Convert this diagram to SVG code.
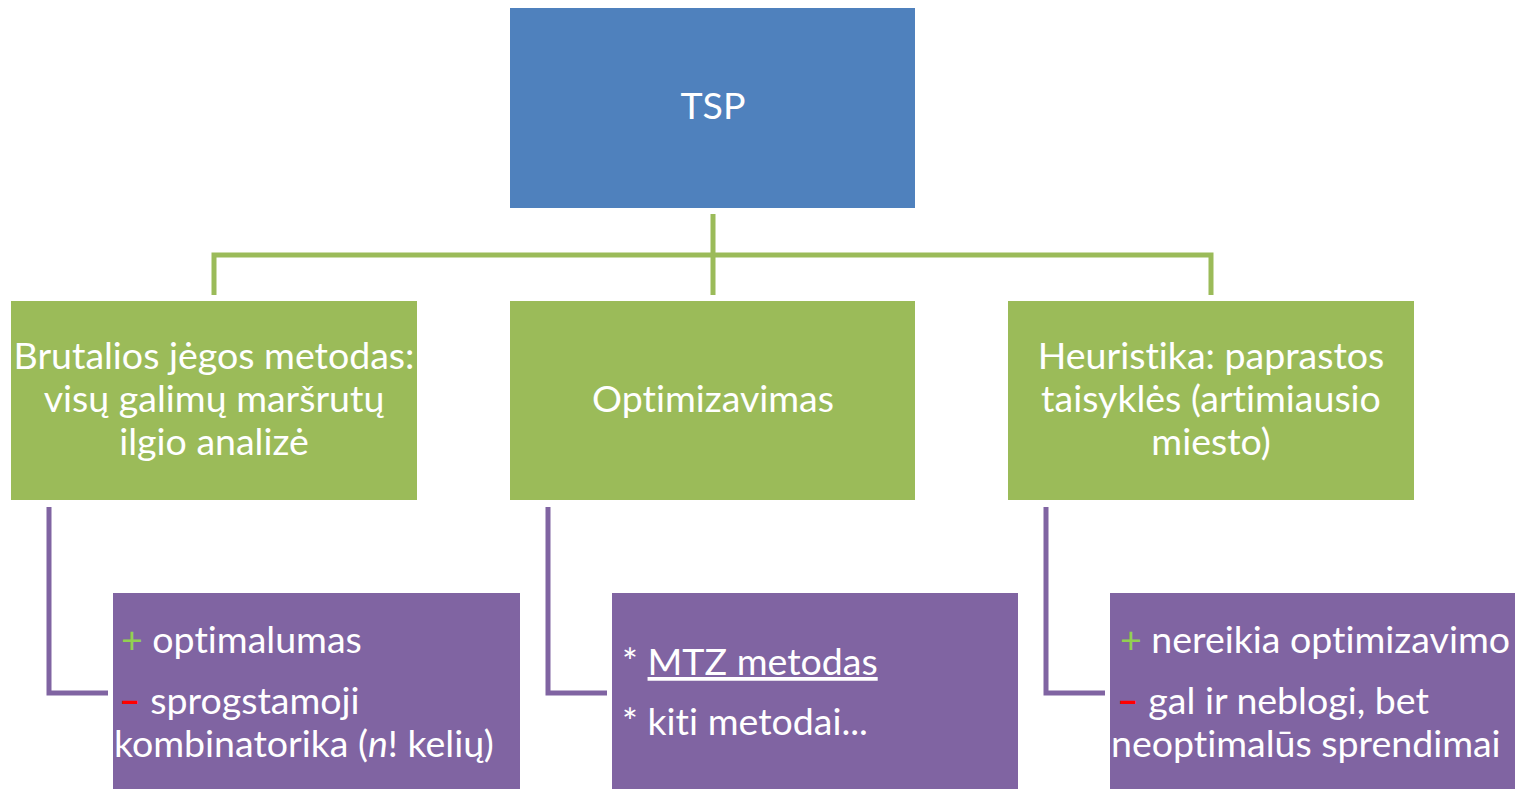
<svg xmlns="http://www.w3.org/2000/svg" width="1515" height="789" viewBox="0 0 1515 789">
<style>
text{font-family:Lato,"Open Sans","Liberation Sans",sans-serif;font-size:37.5px;fill:#fff;font-variant-ligatures:none}
.c{text-anchor:middle}
.g{fill:#92D050}
.r{fill:#FF0000;font-weight:bold}
.gl{fill:none;stroke:#9BBB59;stroke-width:5}
.pl{fill:none;stroke:#8064A2;stroke-width:5}
</style>
<rect width="1515" height="789" fill="#fff"/>
<g id="connectors">
<path class="gl" d="M713 214V295M214 295V255H1211V295"/>
<path class="pl" d="M49 507V693H108"/>
<path class="pl" d="M548 507V693H607"/>
<path class="pl" d="M1046 507V693H1105"/>
</g>
<g id="tsp">
<rect x="510" y="8" width="405" height="200" fill="#4F81BD"/>
<text class="c" x="713" y="119">TSP</text>
</g>
<g id="brutal">
<rect x="11" y="301" width="406" height="199" fill="#9BBB59"/>
<text class="c" x="214" y="369">Brutalios jėgos metodas:</text>
<text class="c" x="214" y="412">visų galimų maršrutų</text>
<text class="c" x="214" y="455">ilgio analizė</text>
</g>
<g id="optim">
<rect x="510" y="301" width="405" height="199" fill="#9BBB59"/>
<text class="c" x="713" y="412">Optimizavimas</text>
</g>
<g id="heur">
<rect x="1008" y="301" width="406" height="199" fill="#9BBB59"/>
<text class="c" x="1211" y="369">Heuristika: paprastos</text>
<text class="c" x="1211" y="412">taisyklės (artimiausio</text>
<text class="c" x="1211" y="455">miesto)</text>
</g>
<g id="brutal-details">
<rect x="113" y="593" width="407" height="196" fill="#8064A2"/>
<text x="121" y="653"><tspan class="g">+</tspan> optimalumas</text>
<text x="119" y="714"><tspan class="r">–</tspan> sprogstamoji</text>
<text x="114" y="757">kombinatorika (<tspan font-style="italic">n</tspan>! kelių)</text>
</g>
<g id="optim-details">
<rect x="612" y="593" width="406" height="196" fill="#8064A2"/>
<text x="622" y="675">* <tspan text-decoration="underline">MTZ metodas</tspan></text>
<text x="622" y="735">* kiti metodai...</text>
</g>
<g id="heur-details">
<rect x="1110" y="593" width="405" height="196" fill="#8064A2"/>
<text x="1120" y="653"><tspan class="g">+</tspan> nereikia optimizavimo</text>
<text x="1117" y="714"><tspan class="r">–</tspan> gal ir neblogi, bet</text>
<text x="1111" y="757">neoptimalūs sprendimai</text>
</g>
</svg>
